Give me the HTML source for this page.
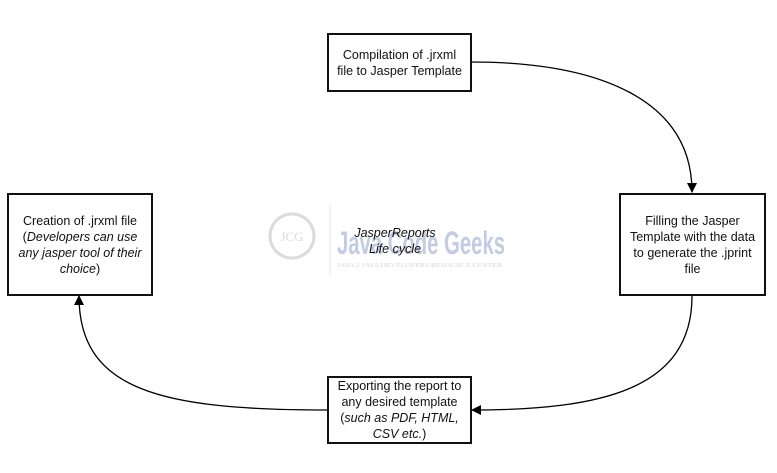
<!DOCTYPE html>
<html><head><style>
body{margin:0;background:#fff;width:777px;height:473px;overflow:hidden;position:relative;font-family:"Liberation Sans",sans-serif;}
.b{position:absolute;border:2px solid #111;box-sizing:border-box;display:flex;align-items:center;justify-content:center;text-align:center;font-size:12.5px;line-height:16px;color:#111;}
</style></head><body>
<svg width="777" height="473" style="position:absolute;left:0;top:0">
<defs><marker id="a" markerWidth="10" markerHeight="10" refX="9" refY="5" orient="auto" markerUnits="userSpaceOnUse"><path d="M0,0 L10,5 L0,10z" fill="#000"/></marker></defs>
<g fill="none" stroke="#000" stroke-width="1.3">
<path d="M471,62 C600,62 692,100 692,192" marker-end="url(#a)"/>
<path d="M692,296 C692,390 600,410 472,410" marker-end="url(#a)"/>
<path d="M327,410 C160,410 79,390 79,296" marker-end="url(#a)"/>
</g>
<g opacity="0.35">
<circle cx="292" cy="236" r="22" fill="none" stroke="#999" stroke-width="3"/>
<text x="292" y="241" font-family="Liberation Serif" font-size="13" fill="#999" text-anchor="middle">JCG</text>
<line x1="330" y1="205" x2="330" y2="275" stroke="#bbb"/>
<text x="337" y="254" font-family="Liberation Sans" font-weight="bold" font-size="32" fill="#5a6fb0" textLength="168" lengthAdjust="spacingAndGlyphs">Java Code Geeks</text>
<text x="337" y="267" font-family="Liberation Serif" font-size="6" fill="#888" textLength="165" lengthAdjust="spacingAndGlyphs">JAVA 2 JAVA DEVELOPERS RESOURCE CENTER</text>
</g>
</svg>
<div class="b" style="left:327px;top:33px;width:145px;height:59px"><div>Compilation of .jrxml<br>file to Jasper Template</div></div>
<div class="b" style="left:7px;top:193px;width:146px;height:103px"><div>Creation of .jrxml file<br>(<i>Developers can use<br>any jasper tool of their<br>choice</i>)</div></div>
<div class="b" style="left:619px;top:193px;width:147px;height:103px"><div>Filling the Jasper<br>Template with the data<br>to generate the .jprint<br>file</div></div>
<div class="b" style="left:327px;top:376px;width:145px;height:68px"><div>Exporting the report to<br>any desired template<br>(<i>such as PDF, HTML,<br>CSV etc.</i>)</div></div>
<div style="position:absolute;left:340px;top:225px;width:110px;text-align:center;font-size:12.5px;line-height:16px;font-style:italic;color:#111">JasperReports<br>Life cycle</div>
</body></html>
